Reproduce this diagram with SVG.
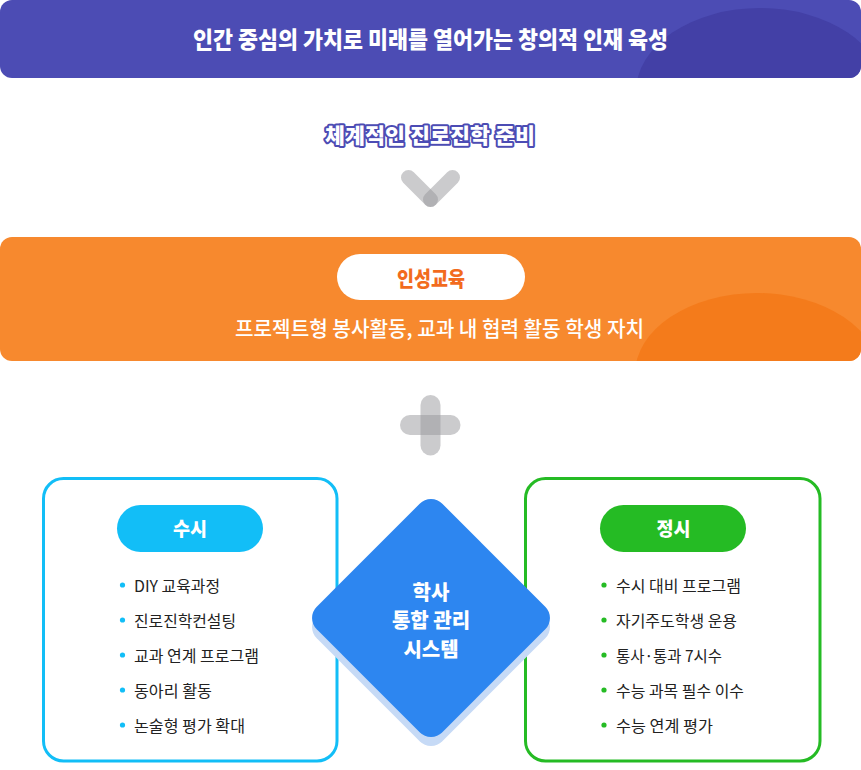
<svg xmlns="http://www.w3.org/2000/svg" width="861" height="770" viewBox="0 0 861 770">
  <defs>
    <style>
      .kr { font-family: "Noto Sans CJK KR", "Noto Sans", "Liberation Sans", sans-serif; }
      .bold { font-weight: 700; }
      .heavy { font-weight: 900; }
      .list { font-size: 16px; fill: #222222; font-weight: 400; }
      .gray { fill: #97979b; fill-opacity: 0.5; }
      .pilltxt { font-size: 19px; fill: #ffffff; font-weight: 900; }
    </style>
    <clipPath id="clipTop"><rect x="0" y="0" width="861" height="78" rx="12"/></clipPath>
    <clipPath id="clipMid"><rect x="0" y="237" width="861" height="124" rx="12"/></clipPath>
    <rect id="diamondShape" x="-88.8" y="-88.8" width="177.6" height="177.6" rx="16"/>
  </defs>

  <!-- Top banner -->
  <g id="banner">
    <rect x="0" y="0" width="861" height="78" rx="12" fill="#4c4cb4"/>
    <ellipse cx="760" cy="92" rx="124" ry="84" fill="#4340a6" clip-path="url(#clipTop)"/>
    <text class="kr heavy" x="430.5" y="48" font-size="23" fill="#ffffff" text-anchor="middle" textLength="475" lengthAdjust="spacingAndGlyphs">인간 중심의 가치로 미래를 열어가는 창의적 인재 육성</text>
  </g>

  <!-- Subtitle -->
  <g id="subtitle">
    <text class="kr heavy" x="430" y="143" font-size="21" fill="#ffffff" stroke="#4c4cb4" stroke-width="4" stroke-linejoin="round" paint-order="stroke" text-anchor="middle" textLength="210" lengthAdjust="spacingAndGlyphs">체계적인 진로진학 준비</text>
  </g>

  <!-- Connectors / symbols -->
  <g id="connectors">
    <g id="chevron" stroke="#97979b" stroke-opacity="0.5" stroke-width="15" stroke-linecap="round" fill="none">
      <line x1="408.5" y1="177.5" x2="430.5" y2="199.5"/>
      <line x1="452.5" y1="177.5" x2="430.5" y2="199.5"/>
    </g>
    <g id="plus">
      <rect class="gray" x="420.5" y="395" width="20" height="60.5" rx="10"/>
      <rect class="gray" x="400" y="415" width="60.5" height="20" rx="10"/>
    </g>
  </g>

  <!-- Character education panel -->
  <g id="character-education">
    <rect x="0" y="237" width="861" height="124" rx="12" fill="#f7892e"/>
    <ellipse cx="757" cy="374" rx="122" ry="81" fill="#f47b1b" clip-path="url(#clipMid)"/>
    <rect x="337" y="254" width="188" height="46" rx="23" fill="#ffffff"/>
    <text class="kr heavy" x="431" y="286" font-size="21" fill="#f26b1d" text-anchor="middle" textLength="68" lengthAdjust="spacingAndGlyphs">인성교육</text>
    <text class="kr" x="439.5" y="336" font-size="21" font-weight="500" fill="#ffffff" text-anchor="middle" textLength="409" lengthAdjust="spacingAndGlyphs">프로젝트형 봉사활동, 교과 내 협력 활동 학생 자치</text>
  </g>

  <!-- Susi box -->
  <g id="susi">
    <rect x="43.5" y="478.5" width="293.5" height="282.5" rx="20" fill="#ffffff" stroke="#12bef7" stroke-width="3"/>
    <rect x="117" y="505" width="146" height="47" rx="23.5" fill="#12bef7"/>
    <text class="kr pilltxt" x="190" y="536" text-anchor="middle" textLength="34" lengthAdjust="spacingAndGlyphs">수시</text>
    <g fill="#12bef7">
      <circle cx="122.5" cy="585" r="2.6"/>
      <circle cx="122.5" cy="620" r="2.6"/>
      <circle cx="122.5" cy="655" r="2.6"/>
      <circle cx="122.5" cy="690" r="2.6"/>
      <circle cx="122.5" cy="725" r="2.6"/>
    </g>
    <text class="kr list" x="134" y="592" textLength="86" lengthAdjust="spacingAndGlyphs">DIY 교육과정</text>
    <text class="kr list" x="134" y="627" textLength="102" lengthAdjust="spacingAndGlyphs">진로진학컨설팅</text>
    <text class="kr list" x="134" y="662" textLength="125" lengthAdjust="spacingAndGlyphs">교과 연계 프로그램</text>
    <text class="kr list" x="134" y="697" textLength="78" lengthAdjust="spacingAndGlyphs">동아리 활동</text>
    <text class="kr list" x="134" y="732" textLength="111" lengthAdjust="spacingAndGlyphs">논술형 평가 확대</text>
  </g>

  <!-- Jeongsi box -->
  <g id="jeongsi">
    <rect x="525.5" y="478.5" width="294.5" height="282.5" rx="20" fill="#ffffff" stroke="#25bb24" stroke-width="3"/>
    <rect x="600" y="505" width="146" height="47" rx="23.5" fill="#25bb24"/>
    <text class="kr pilltxt" x="673.5" y="536" text-anchor="middle" textLength="34" lengthAdjust="spacingAndGlyphs">정시</text>
    <g fill="#25bb24">
      <circle cx="604" cy="585" r="2.6"/>
      <circle cx="604" cy="620" r="2.6"/>
      <circle cx="604" cy="655" r="2.6"/>
      <circle cx="604" cy="690" r="2.6"/>
      <circle cx="604" cy="725" r="2.6"/>
    </g>
    <text class="kr list" x="616" y="592" textLength="125" lengthAdjust="spacingAndGlyphs">수시 대비 프로그램</text>
    <text class="kr list" x="616" y="627" textLength="121" lengthAdjust="spacingAndGlyphs">자기주도학생 운용</text>
    <text class="kr list" x="616" y="662" textLength="106" lengthAdjust="spacingAndGlyphs">통사·통과 7시수</text>
    <text class="kr list" x="616" y="697" textLength="128" lengthAdjust="spacingAndGlyphs">수능 과목 필수 이수</text>
    <text class="kr list" x="616" y="732" textLength="97" lengthAdjust="spacingAndGlyphs">수능 연계 평가</text>
  </g>

  <!-- Central diamond -->
  <g id="academic-system">
    <use href="#diamondShape" transform="translate(431 627) rotate(45)" fill="#c6daf6"/>
    <use href="#diamondShape" transform="translate(431 618) rotate(45)" fill="#2d86f0"/>
    <text class="kr heavy" x="431" y="600" font-size="20" fill="#ffffff" text-anchor="middle">학사</text>
    <text class="kr heavy" x="431" y="628" font-size="20" fill="#ffffff" text-anchor="middle">통합 관리</text>
    <text class="kr heavy" x="431" y="657" font-size="20" fill="#ffffff" text-anchor="middle">시스템</text>
  </g>
</svg>
